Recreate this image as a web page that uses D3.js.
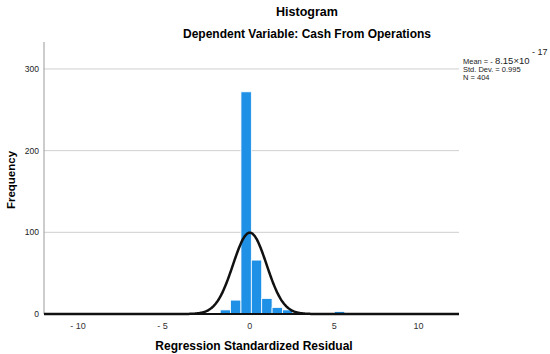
<!DOCTYPE html>
<html>
<head>
<meta charset="utf-8">
<script src="https://cdn.jsdelivr.net/npm/d3@7"></script>
<style>
  body { margin: 0; background: #fff; }
  text { font-family: "Liberation Sans", Arial, sans-serif; }
</style>
</head>
<body>
<div id="chart"></div>
<script>
"use strict"

// bin edges (width about 0.615)
const binStarts = [-2.37, -1.755, -1.14, -0.525, 0.09, 0.705, 1.32, 1.935, 2.55, 5.01];
const binWidth = 0.615;
const binCounts = [1, 5, 17, 272, 66, 19, 8, 5, 1, 3];

const xTicks = [-10, -5, 0, 5, 10];
const yTicks = [0, 100, 200, 300];

const statMean = 0;          // -8.15e-17
const statSd = 0.995;
const statN = 404;

const width = 550, height = 354;

let svg = d3.select("#chart")
  .append("svg")
  .attr("width", width)
  .attr("height", height);

let x = d3.scaleLinear().domain([-12.2, 12.4]).range([44, 459]);
let y = d3.scaleLinear().domain([0, 333]).range([314, 42]);

// gridlines
svg.append("g")
  .selectAll("line")
  .data(yTicks.filter(d => d > 0))
  .enter()
  .append("line")
  .attr("x1", x.range()[0])
  .attr("x2", x.range()[1])
  .attr("y1", d => y(d))
  .attr("y2", d => y(d))
  .style("stroke", "#cfcfcf")
  .style("stroke-width", 1);

// left axis line
svg.append("line")
  .attr("x1", 44).attr("x2", 44)
  .attr("y1", y.range()[1]).attr("y2", y(0))
  .style("stroke", "#9a9a9a");

// y tick labels
svg.append("g")
  .selectAll("text")
  .data(yTicks)
  .enter()
  .append("text")
  .attr("x", 39)
  .attr("y", d => y(d) + 3)
  .attr("text-anchor", "end")
  .style("font-size", "8.5px")
  .style("fill", "#222")
  .text(d => d);

// x tick labels
svg.append("g")
  .selectAll("text")
  .data(xTicks)
  .enter()
  .append("text")
  .attr("x", d => x(d) + (d < 0 ? -3 : 0))
  .attr("y", 329)
  .attr("text-anchor", "middle")
  .style("font-size", "9px")
  .style("fill", "#333")
  .text(d => d < 0 ? "- " + Math.abs(d) : d);

// bars
svg.append("g")
  .selectAll("rect")
  .data(binStarts.map((s, i) => ({start: s, count: binCounts[i]})))
  .enter()
  .append("rect")
  .attr("x", d => x(d.start))
  .attr("y", d => y(d.count))
  .attr("width", d => x(d.start + binWidth) - x(d.start))
  .attr("height", d => y(0) - y(d.count))
  .style("fill", "#1e90e6")
  .style("stroke", "#ffffff")
  .style("stroke-width", 0.8);

// fitted normal curve from the stats shown in the legend
let curveX = d3.range(x.domain()[0], x.domain()[1] + 0.001, 0.05);
let line = d3.line()
  .x(d => x(d))
  .y(d => y(statN * binWidth / (statSd * Math.sqrt(2 * Math.PI)) *
        Math.exp(-0.5 * Math.pow((d - statMean) / statSd, 2))))
  .curve(d3.curveBasis);

// baseline
svg.append("line")
  .attr("x1", x.range()[0]).attr("x2", x.range()[1])
  .attr("y1", y(0)).attr("y2", y(0))
  .style("stroke", "#111")
  .style("stroke-width", 2);

svg.append("path")
  .datum(curveX)
  .attr("d", line)
  .style("fill", "none")
  .style("stroke", "#111")
  .style("stroke-width", 2.5);

// titles
svg.append("text")
  .attr("x", 307).attr("y", 16)
  .attr("text-anchor", "middle")
  .style("font-size", "12.5px")
  .style("font-weight", "bold")
  .text("Histogram");

svg.append("text")
  .attr("x", 307).attr("y", 38)
  .attr("text-anchor", "middle")
  .style("font-size", "12px")
  .style("font-weight", "bold")
  .text("Dependent Variable: Cash From Operations");

svg.append("text")
  .attr("x", 254).attr("y", 350)
  .attr("text-anchor", "middle")
  .style("font-size", "12px")
  .style("font-weight", "bold")
  .text("Regression Standardized Residual");

svg.append("text")
  .attr("transform", "translate(15,180) rotate(-90)")
  .attr("text-anchor", "middle")
  .style("font-size", "11.5px")
  .style("font-weight", "bold")
  .text("Frequency");

// stats box
let stats = svg.append("g").style("fill", "#222");
let mean = stats.append("text").attr("x", 463).attr("y", 64).style("font-size", "7.5px");
mean.append("tspan").text("Mean = - ");
mean.append("tspan").style("font-size", "9.5px").text("8.15×10");
stats.append("text").attr("x", 532).attr("y", 55).style("font-size", "9px").text("- 17");
stats.append("text").attr("x", 463).attr("y", 72).style("font-size", "7.5px").text("Std. Dev. = 0.995");
stats.append("text").attr("x", 463).attr("y", 80).style("font-size", "7.5px").text("N = " + statN);
</script>
</body>
</html>
